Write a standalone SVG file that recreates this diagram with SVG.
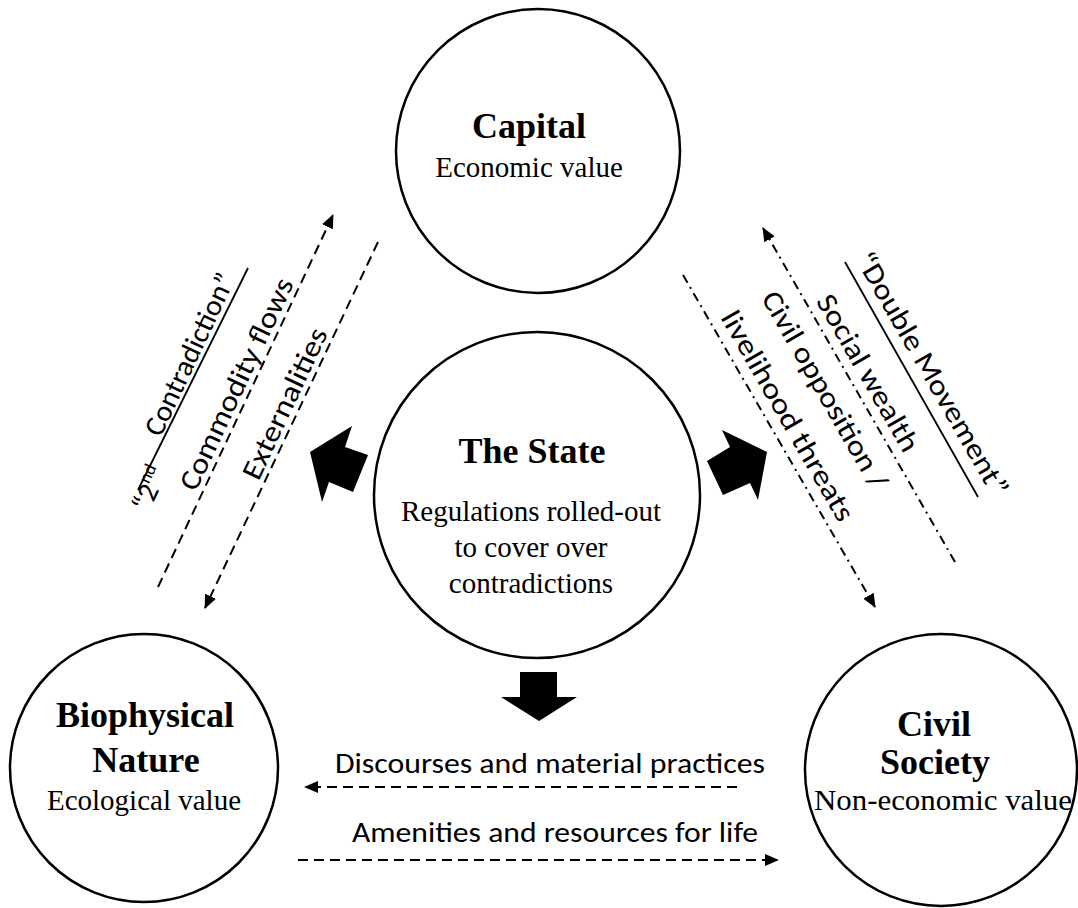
<svg xmlns="http://www.w3.org/2000/svg" width="1078" height="908" viewBox="0 0 1078 908">
<style>
.node{fill:#fff;stroke:#000;stroke-width:2.5}
.t{font-family:"Liberation Serif","Times New Roman",serif;fill:#000;text-anchor:middle}
.b{font-weight:bold;font-size:36px}
.r{font-size:29px}
.lab{font-family:Carlito,Calibri,"Open Sans",sans-serif;font-size:29px;fill:#000}
.dash{fill:none;stroke:#000;stroke-width:2;stroke-dasharray:10 6}
.dd{fill:none;stroke:#000;stroke-width:2;stroke-dasharray:9 5 2 5}
.ul{stroke:#000;stroke-width:1.8}
.big{fill:#000}
</style>
<defs>
<marker id="ah" viewBox="0 0 14 12" refX="13" refY="6" markerWidth="14" markerHeight="12" markerUnits="userSpaceOnUse" orient="auto">
<path d="M0,0 L14,6 L0,12 z" fill="#000"/>
</marker>
</defs>
<rect width="1078" height="908" fill="#fff"/>

<g id="capital">
<circle class="node" cx="538" cy="151" r="142"/>
<text class="t b" x="529" y="138">Capital</text>
<text class="t r" x="529" y="177">Economic value</text>
</g>

<g id="state">
<circle class="node" cx="537" cy="495" r="163"/>
<text class="t b" x="532" y="463">The State</text>
<text class="t r" x="531" y="521">Regulations rolled-out</text>
<text class="t r" x="531" y="557">to cover over</text>
<text class="t r" x="531" y="593">contradictions</text>
</g>

<g id="nature">
<circle class="node" cx="144" cy="768" r="134"/>
<text class="t b" x="145" y="727">Biophysical</text>
<text class="t b" x="146" y="772">Nature</text>
<text class="t r" x="144" y="810">Ecological value</text>
</g>

<g id="civil">
<circle class="node" cx="941" cy="770" r="136"/>
<text class="t b" x="934" y="736">Civil</text>
<text class="t b" x="935" y="774">Society</text>
<text class="t" x="943" y="810" font-size="30" textLength="258" lengthAdjust="spacingAndGlyphs">Non-economic value</text>
</g>

<g id="connectors">
<line class="dash" x1="158" y1="587" x2="333" y2="215" marker-end="url(#ah)"/>
<line class="dash" x1="378" y1="242" x2="205" y2="608" marker-end="url(#ah)"/>
<line class="dd" x1="955" y1="562" x2="763" y2="228" marker-end="url(#ah)"/>
<line class="dd" x1="683" y1="275" x2="875" y2="607" marker-end="url(#ah)"/>
<line class="dash" x1="737" y1="787" x2="305" y2="787" marker-end="url(#ah)"/>
<line class="dash" x1="298" y1="860" x2="778" y2="860" marker-end="url(#ah)"/>
<line class="ul" x1="138" y1="490" x2="248" y2="268"/>
<line class="ul" x1="845" y1="262" x2="978" y2="497"/>
<polygon class="big" points="310,452 352,426 345,447 368,455 353,492 329,482 322,502"/>
<polygon class="big" points="767,452 722,430 730,447 707,461 723,495 750,483 758,500"/>
<polygon class="big" points="520,672 557,672 557,697 577,697 539,721 501,697 520,697"/>
</g>

<g id="labels-left" transform="translate(158,587) rotate(-64.8)">
<text class="lab" x="62" y="-40">“2<tspan font-size="18" dy="-12">nd</tspan></text>
<text class="lab" x="136" y="-61" textLength="176" lengthAdjust="spacingAndGlyphs">Contradiction”</text>
<text class="lab" x="217" y="-6" text-anchor="middle" textLength="231" lengthAdjust="spacingAndGlyphs">Commodity flows</text>
<text class="lab" x="220" y="46" text-anchor="middle" textLength="164" lengthAdjust="spacingAndGlyphs">Externalities</text>
</g>

<g id="labels-right" transform="translate(763,228) rotate(60)">
<text class="lab" x="211" y="-64" text-anchor="middle" textLength="277" lengthAdjust="spacingAndGlyphs">“Double Movement”</text>
<text class="lab" x="178" y="-9" text-anchor="middle" textLength="177" lengthAdjust="spacingAndGlyphs">Social wealth</text>
<text class="lab" x="171" y="37" text-anchor="middle" textLength="223" lengthAdjust="spacingAndGlyphs">Civil opposition /</text>
<text class="lab" x="175" y="82" text-anchor="middle" textLength="238" lengthAdjust="spacingAndGlyphs">livelihood threats</text>
</g>

<g id="labels-bottom">
<text class="lab" x="550" y="773" text-anchor="middle" textLength="430" lengthAdjust="spacingAndGlyphs">Discourses and material practices</text>
<text class="lab" x="555" y="842" text-anchor="middle" textLength="406" lengthAdjust="spacingAndGlyphs">Amenities and resources for life</text>
</g>
</svg>
